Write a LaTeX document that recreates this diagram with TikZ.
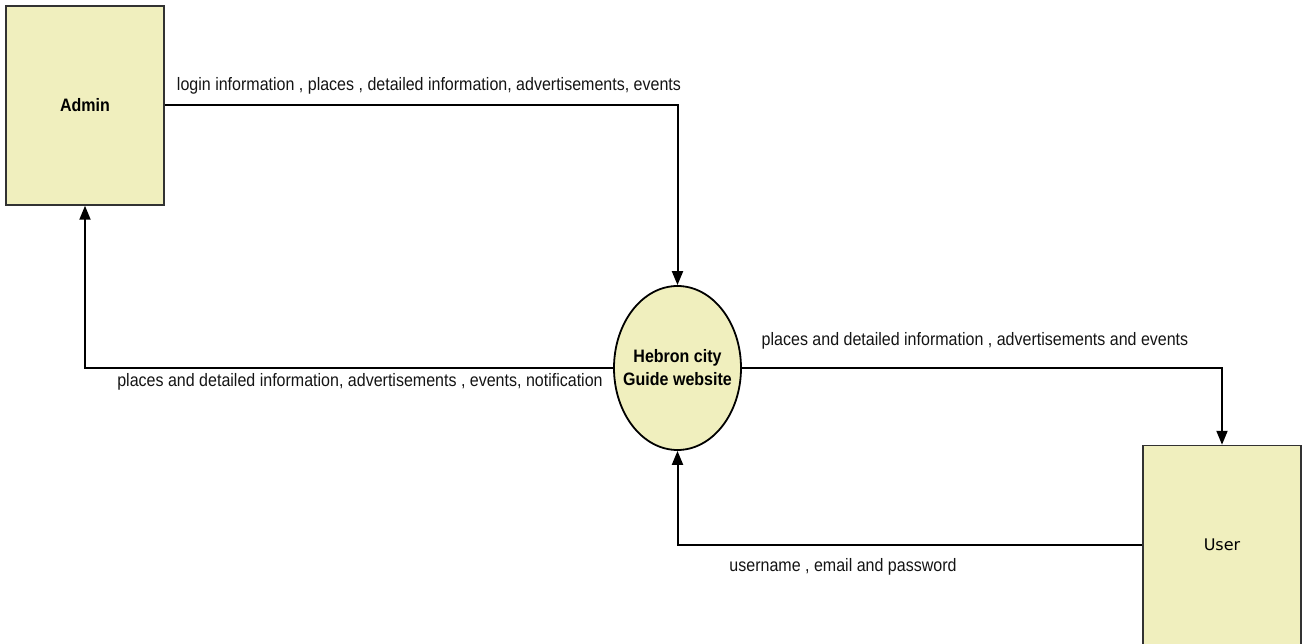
\documentclass[tikz,border=0pt]{standalone}
\usepackage{fontspec}
\setmainfont{Liberation Sans}
\newfontfamily\narrowfont[FakeStretch=0.89]{Liberation Sans}
\newfontfamily\userfont{DejaVu Sans}
\usetikzlibrary{shapes.geometric,arrows.meta}
\definecolor{boxfill}{RGB}{240,239,190}
\definecolor{boxline}{RGB}{50,50,50}
\tikzset{
  entity/.style={draw=boxline,line width=1.5pt,fill=boxfill,minimum width=158pt,minimum height=199pt,inner sep=0pt},
  proc/.style={ellipse,draw=black,line width=1.8pt,fill=boxfill,minimum width=127pt,minimum height=164pt,inner sep=0pt},
  proctext/.style={align=center,inner sep=0pt,font=\narrowfont\bfseries\fontsize{18}{23}\selectfont},
  flow/.style={line width=2pt,-{Triangle[length=14pt,width=11pt]}},
  lbl/.style={font=\narrowfont\fontsize{18}{21}\selectfont,inner sep=0pt,text=black!92}
}
\begin{document}
\begin{tikzpicture}[x=1pt,y=-1pt]
\useasboundingbox (0,0) rectangle (1302,644);
\node[entity,font=\narrowfont\bfseries\fontsize{18}{21}\selectfont] (admin) at (85,105.5) {Admin};
\node[entity,font=\userfont\fontsize{16}{19}\selectfont] (user) at (1222,545) {User};
\node[proc,label={[proctext]center:Hebron city\\Guide website}] (web) at (677.5,368) {};
\coordinate (c1) at (web.north |- admin.east);
\coordinate (c2) at (admin.south |- web.west);
\coordinate (c3) at (user.north |- web.east);
\coordinate (c4) at (web.south |- user.west);
\draw[flow] (admin.east) -- (c1) -- (web.north);
\draw[flow] (web.west) -- (c2) -- (admin.south);
\draw[flow] (web.east) -- (c3) -- (user.north);
\draw[flow] (user.west) -- (c4) -- (web.south);
\node[lbl] (l1) at (429,86) {login information , places , detailed information, advertisements, events};
\node[lbl] (l2) at (360,382) {places and detailed information, advertisements , events, notification};
\node[lbl] (l3) at (975,341) {places and detailed information , advertisements and events};
\node[lbl] (l4) at (843,567) {username , email and password};
\end{tikzpicture}
\end{document}
